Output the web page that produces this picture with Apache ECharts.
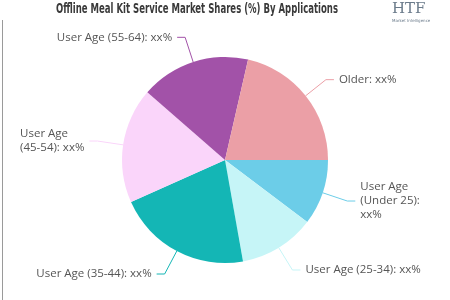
<!DOCTYPE html>
<html><head><meta charset="utf-8">
<script src="https://cdn.jsdelivr.net/npm/echarts@6/dist/echarts.min.js"></script>
<style>html,body{margin:0;padding:0;background:#fff}#c{width:450px;height:300px}</style>
</head><body><div id="c"></div>
<script>
const titleText = 'Offline Meal Kit Service Market Shares (%) By Applications';
const categories = ['User Age (Under 25)', 'User Age (25-34)', 'User Age (35-44)', 'User Age (45-54)', 'User Age (55-64)', 'Older'];
const values = [10.3, 11.9, 21.1, 18.1, 17.2, 21.4];
const valueLabels = ['xx%', 'xx%', 'xx%', 'xx%', 'xx%', 'xx%'];
const colors = ['#6ccde8', '#c6f5f7', '#14b6b5', '#fad5fa', '#a252a8', '#eb9fa6'];
const labelWidths = [64, null, null, 76, null, null];

const titleFont = 'bold 14px "DejaVu Sans Condensed"';
const cv = document.createElement('canvas').getContext('2d');
cv.font = titleFont;
const titleScale = 282 / cv.measureText(titleText).width;

const chart = echarts.init(document.getElementById('c'));
chart.setOption({
  animation: false,
  graphic: [
    {type: 'text', x: 197, y: 2, scaleX: titleScale, originX: 0,
     style: {text: titleText, font: titleFont, fill: '#3a3a3a', textAlign: 'center', textVerticalAlign: 'top'}},
    {type: 'line', shape: {x1: 2.5, y1: 20, x2: 2.5, y2: 300}, style: {stroke: '#9a9a9a', lineWidth: 1}},
    {type: 'text', left: 392, top: 2, style: {text: 'HTF', font: '15px "DejaVu Serif"', fill: '#6a7a8a'}},
    {type: 'text', left: 392, top: 19, style: {text: 'Market Intelligence', font: '4px "DejaVu Sans"', fill: '#6a7a8a'}}
  ],
  series: [{
    type: 'pie',
    center: [225, 160],
    radius: 103,
    startAngle: 0,
    clockwise: true,
    avoidLabelOverlap: true,
    label: {
      show: true, color: '#555', fontFamily: 'Open Sans', fontSize: 11.5, lineHeight: 14,
      formatter: p => {
        const t = p.name + ': ' + valueLabels[p.dataIndex];
        return labelWidths[p.dataIndex] ? t : t;
      }
    },
    labelLine: {length: 26, length2: 8, lineStyle: {width: 1}},
    data: categories.map((n, i) => {
      const d = {name: n, value: values[i], itemStyle: {color: colors[i]}, labelLine: {lineStyle: {color: colors[i]}}};
      if (labelWidths[i]) d.label = {width: labelWidths[i], overflow: 'break', textStyle: {}, rich: {}};
      if (i === 3) {
        d.label.formatter = p => {
          const t = p.name + ': ' + valueLabels[p.dataIndex];
          const sp = t.indexOf(' (');
          return '{l|' + t.slice(0, sp) + '}\n{l|' + t.slice(sp + 1) + '}';
        };
        d.label.rich = {l: {align: 'left', color: '#555', fontFamily: 'Open Sans', fontSize: 11.5, lineHeight: 14}};
        delete d.label.width; delete d.label.overflow;
      }
      return d;
    })
  }]
});
</script></body></html>
